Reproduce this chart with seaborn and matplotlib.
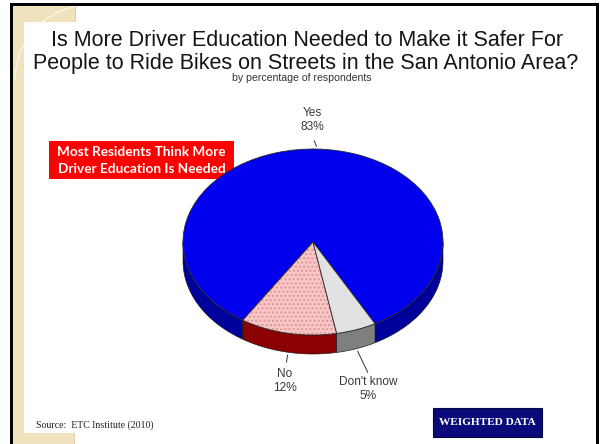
import numpy as np
import matplotlib
matplotlib.use("Agg")
import matplotlib.pyplot as plt
from matplotlib.patches import Rectangle, Polygon, Arc
from matplotlib.colors import to_rgba
import seaborn as sns

# ---------------- data ----------------
title_lines = ["Is More Driver Education Needed to Make it Safer For",
               "People to Ride Bikes on Streets in the San Antonio Area?"]
subtitle = "by percentage of respondents"
categories = ["Yes", "No", "Don't know"]
percentages = [83, 12, 5]
callout_lines = ["Most Residents Think More", "Driver Education Is Needed"]
source_text = "Source:  ETC Institute (2010)"
badge_text = "WEIGHTED DATA"

# ---------------- style ----------------
sns.set_theme(style="white")
plt.rcParams['font.family'] = ['Liberation Sans', 'DejaVu Sans']

top_colors = sns.color_palette(["#0000EE", "#F7C6C6", "#E2E2E2"])
side_colors = sns.color_palette(["#00009A", "#8B0000", "#7F7F7F"])

W, H = 600, 444
fig = plt.figure(figsize=(W / 100, H / 100), dpi=100)
fig.patch.set_facecolor("white")

# background / frame axes in pixel coordinates
bg = fig.add_axes([0, 0, 1, 1])
bg.set_xlim(0, W)
bg.set_ylim(H, 0)
bg.axis("off")

beige = "#EFE2BC"
bg.add_patch(Polygon([(13, 6), (75, 6), (75, 22), (24, 22), (24, 433),
                      (74, 433), (74, 444), (13, 444)],
                     closed=True, facecolor=beige, edgecolor="none", zorder=1))
bg.add_patch(Arc((90, 80), 150, 150, theta1=180, theta2=262,
                 color="#FBF5E4", lw=1.0, zorder=2))
bg.plot([75, 75], [6, 22], color="#D8C79A", lw=0.6, zorder=2)
bg.plot([74, 74], [433, 444], color="#D8C79A", lw=0.6, zorder=2)
# white card on top of the beige frame
bg.add_patch(Rectangle((24, 22), 572, 411, facecolor="white", edgecolor="none", zorder=2.5))
# black border
bg.add_patch(Rectangle((10, 3), 589, 3, facecolor="black", edgecolor="none", zorder=3))
bg.add_patch(Rectangle((10, 3), 3, 441, facecolor="black", edgecolor="none", zorder=3))
bg.add_patch(Rectangle((596, 3), 3, 441, facecolor="black", edgecolor="none", zorder=3))

# titles
bg.text(307, 40, title_lines[0], ha="center", va="center", fontsize=15.5,
        color="#151515", zorder=5)
bg.text(306, 63, title_lines[1], ha="center", va="center", fontsize=15.5,
        color="#151515", zorder=5)
bg.text(302, 78, subtitle, ha="center", va="center", fontsize=7.6,
        color="#333333", zorder=5)

# callout box
bg.add_patch(Rectangle((49, 141), 185, 38, facecolor="#FF0000",
                       edgecolor="none", zorder=6))
bg.text(141.5, 151.5, callout_lines[0], ha="center", va="center", fontsize=9.8,
        fontweight="bold", color="white", family=["Lato", "DejaVu Sans"], zorder=7)
bg.text(141.5, 169, callout_lines[1], ha="center", va="center", fontsize=9.8,
        fontweight="bold", color="white", family=["Lato", "DejaVu Sans"], zorder=7)

# source and badge
bg.text(36, 425, source_text, ha="left", va="center", fontsize=7.1,
        color="#222222", family=["Liberation Serif", "DejaVu Serif"], zorder=5)
bg.add_patch(Rectangle((433, 408), 109, 29, facecolor="#0A0A7A",
                       edgecolor="#05053F", lw=0.8, zorder=5))
bg.text(487.5, 422.5, badge_text, ha="center", va="center", fontsize=8.1,
        fontweight="bold", color="white",
        family=["Liberation Serif", "DejaVu Serif"], zorder=6)

# ---------------- 3D pie ----------------
cx, cy, rx, ry, depth = 313, 242, 130, 93, 19
ax = fig.add_axes([0, 0, 1, 1])
ax.patch.set_alpha(0)

wedges, _ = ax.pie(percentages, colors=top_colors, startangle=298.5,
                   counterclock=True, radius=1, center=(0, 0),
                   wedgeprops=dict(edgecolor="#2A2A2A", linewidth=0.6, zorder=3))
wedges[1].set_hatch("....")
if hasattr(wedges[1], "_hatch_color"):
    wedges[1]._hatch_color = to_rgba("#E39595")

ax.set_aspect("auto")
ax.set_xlim(-cx / rx, (W - cx) / rx)
ax.set_ylim((cy - H) / ry, cy / ry)
ax.axis("off")

d = depth / ry


def front_segments(t1, t2):
    segs = []
    for k in range(-1, 3):
        lo = max(t1, 180 + 360 * k)
        hi = min(t2, 360 + 360 * k)
        if hi > lo:
            segs.append((lo, hi))
    return segs


for w, sc in zip(wedges, side_colors):
    for lo, hi in front_segments(w.theta1, w.theta2):
        t = np.radians(np.linspace(lo, hi, 80))
        top = np.column_stack([np.cos(t), np.sin(t)])
        bot = np.column_stack([np.cos(t), np.sin(t) - d])[::-1]
        ax.add_patch(Polygon(np.vstack([top, bot]), closed=True, facecolor=sc,
                             edgecolor="#1A1A1A", linewidth=0.45, zorder=2))


def to_pie(px, py):
    return ((px - cx) / rx, (cy - py) / ry)


label_pos = [(312, 120), (285, 381), (368, 389)]
line_end = [(313, 138), (286, 365), (369, 375)]
for w, cat, pct, lp, le in zip(wedges, categories, percentages, label_pos, line_end):
    mid = np.radians((w.theta1 + w.theta2) / 2)
    x, y = np.cos(mid), np.sin(mid)
    if np.sin(mid) < 0:
        y = y - d
    ax.annotate("", xy=(x, y), xytext=to_pie(*le),
                arrowprops=dict(arrowstyle="-", color="#333333", lw=0.7), zorder=4)
    ax.text(*to_pie(*lp), f"{cat}\n{pct}%", ha="center", va="center",
            fontsize=8.6, color="#3A3A3A", linespacing=1.15, zorder=5)

fig.savefig("out.png", dpi=100)
